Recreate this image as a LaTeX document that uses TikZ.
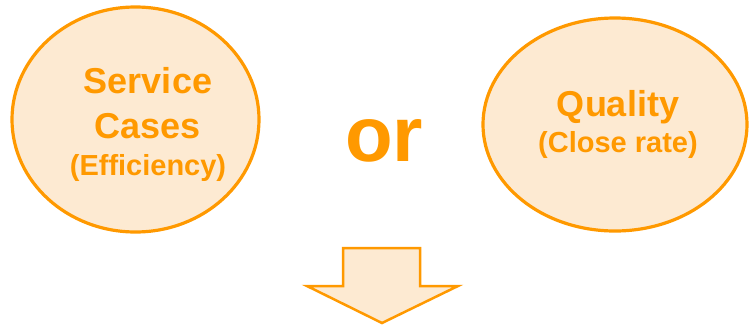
\documentclass[tikz,border=0pt]{standalone}
\usepackage{fontspec}
\setmainfont{Liberation Sans}
\usetikzlibrary{shapes.geometric}
\definecolor{caseorange}{HTML}{FF9900}
\definecolor{casefill}{HTML}{FDEAD2}

\begin{document}
\begin{tikzpicture}[
    x=1pt, y=-1pt,
    oval/.style={ellipse, draw=caseorange, fill=casefill, line width=3.2pt, inner sep=0pt},
    bigword/.style={anchor=base, text=caseorange, font=\fontsize{36}{40}\selectfont\bfseries},
    smallword/.style={anchor=base, text=caseorange, font=\fontsize{29}{32}\selectfont\bfseries},
    orword/.style={anchor=base, text=caseorange, font=\fontsize{78}{80}\selectfont\bfseries},
    downarrow/.style={draw=caseorange, fill=casefill, line width=2.5pt, line join=miter}
]
\useasboundingbox (0,0) rectangle (750,325);

% Two options
\node[oval, minimum width=247pt, minimum height=225pt] (cases) at (135.5,119.5) {};
\node[oval, minimum width=264pt, minimum height=213pt] (quality) at (615,124.5) {};

% Labels in the left oval
\node[bigword] (service) at (148,93) {Service};
\node[bigword] (casesword) at (148,138) {Cases};
\node[smallword] (efficiency) at (148,175) {(Efficiency)};

% Labels in the right oval
\node[bigword] (qualityword) at (618,116) {Quality};
\node[smallword] (closerate) at (618,152) {(Close rate)};

% The word between them
\node[orword] (or) at (384,161) {or};

% Arrow below
\draw[downarrow] (343,248) -- (420,248) -- (420,286) -- (458,286)
    -- (382,323) -- (307,286) -- (343,286) -- cycle;

\end{tikzpicture}
\end{document}
